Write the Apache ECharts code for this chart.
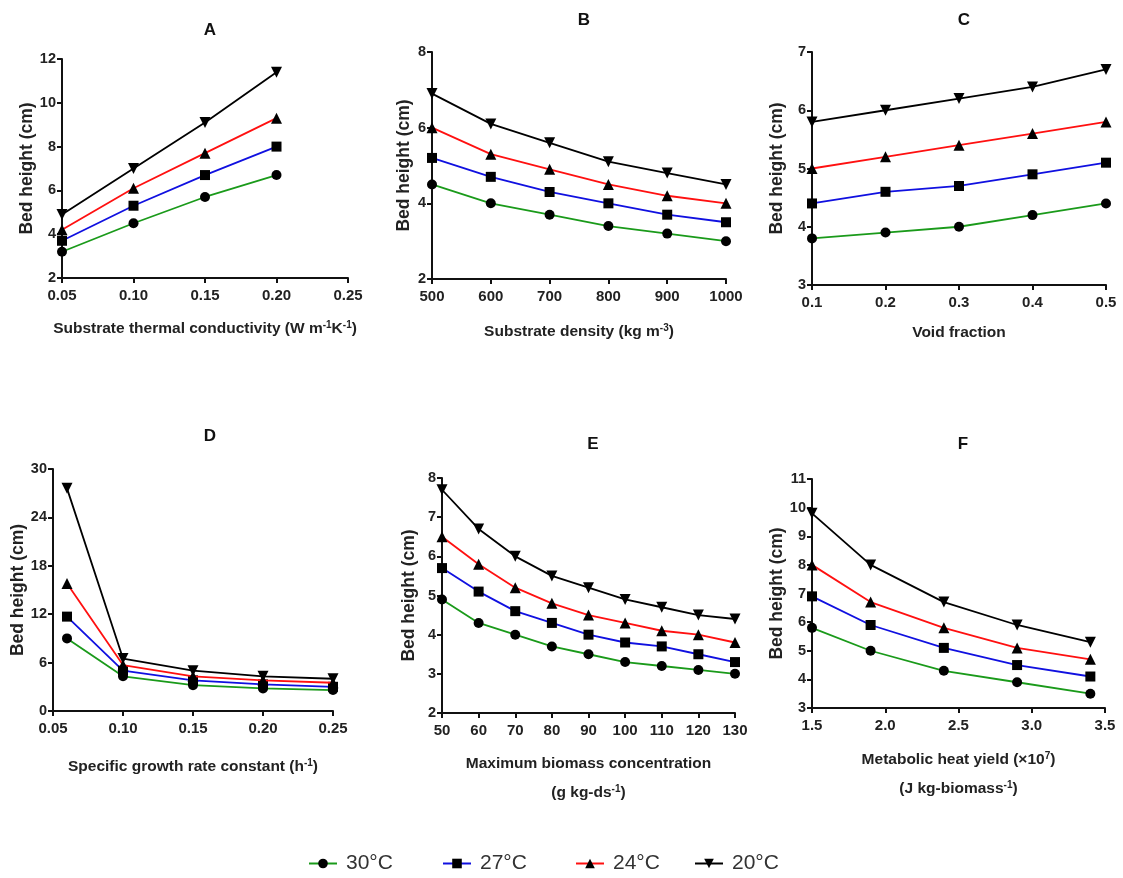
<!DOCTYPE html>
<html><head><meta charset="utf-8">
<script src="https://cdn.jsdelivr.net/npm/echarts@6/dist/echarts.min.js"></script>
<style>html,body{margin:0;padding:0;background:#fff}#c{width:1123px;height:878px}</style>
</head><body><div id="c"></div>
<script>
// Legend / temperatures
const tempNames = ['30°C', '27°C', '24°C', '20°C'];

// Panel A
const xA = [0.05, 0.10, 0.15, 0.20];
const a30 = [3.2, 4.5, 5.7, 6.7];
const a27 = [3.7, 5.3, 6.7, 8.0];
const a24 = [4.2, 6.1, 7.7, 9.3];
const a20 = [4.9, 7.0, 9.1, 11.4];

// Panel B
const xB = [500, 600, 700, 800, 900, 1000];
const b30 = [4.5, 4.0, 3.7, 3.4, 3.2, 3.0];
const b27 = [5.2, 4.7, 4.3, 4.0, 3.7, 3.5];
const b24 = [6.0, 5.3, 4.9, 4.5, 4.2, 4.0];
const b20 = [6.9, 6.1, 5.6, 5.1, 4.8, 4.5];

// Panel C
const xC = [0.1, 0.2, 0.3, 0.4, 0.5];
const c30 = [3.8, 3.9, 4.0, 4.2, 4.4];
const c27 = [4.4, 4.6, 4.7, 4.9, 5.1];
const c24 = [5.0, 5.2, 5.4, 5.6, 5.8];
const c20 = [5.8, 6.0, 6.2, 6.4, 6.7];

// Panel D
const xD = [0.06, 0.10, 0.15, 0.20, 0.25];
const d30 = [9.0, 4.3, 3.2, 2.8, 2.6];
const d27 = [11.7, 5.0, 3.8, 3.3, 3.0];
const d24 = [15.8, 5.7, 4.3, 3.8, 3.5];
const d20 = [27.6, 6.5, 5.0, 4.3, 4.0];

// Panel E
const xE = [50, 60, 70, 80, 90, 100, 110, 120, 130];
const e30 = [4.9, 4.3, 4.0, 3.7, 3.5, 3.3, 3.2, 3.1, 3.0];
const e27 = [5.7, 5.1, 4.6, 4.3, 4.0, 3.8, 3.7, 3.5, 3.3];
const e24 = [6.5, 5.8, 5.2, 4.8, 4.5, 4.3, 4.1, 4.0, 3.8];
const e20 = [7.7, 6.7, 6.0, 5.5, 5.2, 4.9, 4.7, 4.5, 4.4];

// Panel F
const xF = [1.5, 1.9, 2.4, 2.9, 3.4];
const f30 = [5.8, 5.0, 4.3, 3.9, 3.5];
const f27 = [6.9, 5.9, 5.1, 4.5, 4.1];
const f24 = [8.0, 6.7, 5.8, 5.1, 4.7];
const f20 = [9.8, 8.0, 6.7, 5.9, 5.3];

// Titles and axis names (rich text: n = normal, s = superscript)
const panelTitles = ['A', 'B', 'C', 'D', 'E', 'F'];
const xNames = [
  '{n|Substrate thermal conductivity (W m}{s|-1}{n|K}{s|-1}{n|)}',
  '{n|Substrate density (kg m}{s|-3}{n|)}',
  '{n|Void fraction}',
  '{n|Specific growth rate constant (h}{s|-1}{n|)}',
  '{n|Maximum biomass concentration}\n{n|(g kg-ds}{s|-1}{n|)}',
  '{n|Metabolic heat yield (\u00D710}{s|7}{n|)}\n{n|(J kg-biomass}{s|-1}{n|)}'
];
const yName = 'Bed height (cm)';

const panels = [
  {xs: xA, sets: [a30, a27, a24, a20], grid: {left: 62, top: 59, width: 286, height: 219}, x: [0.05, 0.25, 0.05, 2], y: [2, 12, 2], title: [205, 17], gap: 36, ygap: 24},
  {xs: xB, sets: [b30, b27, b24, b20], grid: {left: 432, top: 52, width: 294, height: 227}, x: [500, 1000, 100, 0], y: [2, 8, 2], title: [579, 7], gap: 38, ygap: 19},
  {xs: xC, sets: [c30, c27, c24, c20], grid: {left: 812, top: 52, width: 294, height: 233}, x: [0.1, 0.5, 0.1, 1], y: [3, 7, 1], title: [959, 7], gap: 33, ygap: 26},
  {xs: xD, sets: [d30, d27, d24, d20], grid: {left: 53, top: 469, width: 280, height: 242}, x: [0.05, 0.25, 0.05, 2], y: [0, 30, 6], title: [205, 423], gap: 41, ygap: 25},
  {xs: xE, sets: [e30, e27, e24, e20], grid: {left: 442, top: 478, width: 293, height: 235}, x: [50, 130, 10, 0], y: [2, 8, 1], title: [588, 431], gap: 36, ygap: 24},
  {xs: xF, sets: [f30, f27, f24, f20], grid: {left: 812, top: 479, width: 293, height: 229}, x: [1.5, 3.5, 0.5, 1], y: [3, 11, 1], title: [958, 431], gap: 37, ygap: 24}
];

const lineColors = ['#1a9a1a', '#1010e0', '#ff1010', '#000000'];
const symbols = ['circle', 'rect', 'triangle', 'triangle'];
const rotations = [0, 0, 0, 180];
const symSizes = [10, 10, 11, 11];
const legendLeft = [303, 437, 570, 689];

const FONT = '"Liberation Sans", Arial, sans-serif';
const axisLineStyle = {color: '#111', width: 2};

const grids = [], xAxes = [], yAxes = [], series = [], titles = [];
panels.forEach((p, i) => {
  grids.push(Object.assign({containLabel: false}, p.grid));
  titles.push({text: panelTitles[i], left: p.title[0], top: p.title[1], textAlign: 'center',
    textStyle: {fontFamily: FONT, fontWeight: 'bold', fontSize: 17, color: '#111'}});
  const dec = p.x[3];
  xAxes.push({
    type: 'value', gridIndex: i, min: p.x[0], max: p.x[1], interval: p.x[2],
    name: xNames[i], nameLocation: 'middle', nameGap: p.gap,
    nameTextStyle: {
      fontFamily: FONT, fontWeight: 'bold', fontSize: 15.5, color: '#222', lineHeight: 29,
      rich: {
        n: {fontFamily: FONT, fontWeight: 'bold', fontSize: 15.5, color: '#222', lineHeight: 29},
        s: {fontFamily: FONT, fontWeight: 'bold', fontSize: 10, color: '#222', verticalAlign: 'top', lineHeight: 12, padding: [6, 0, 0, 0]}
      }
    },
    axisLine: {show: true, onZero: false, lineStyle: axisLineStyle},
    axisTick: {show: true, length: 5, lineStyle: axisLineStyle},
    axisLabel: {fontFamily: FONT, fontWeight: 'bold', fontSize: 15, color: '#222', margin: 10,
      formatter: v => Number(v).toFixed(dec)},
    splitLine: {show: false}
  });
  yAxes.push({
    type: 'value', gridIndex: i, min: p.y[0], max: p.y[1], interval: p.y[2],
    name: yName, nameLocation: 'middle', nameGap: p.ygap,
    nameTextStyle: {fontFamily: FONT, fontWeight: 'bold', fontSize: 17.5, color: '#222'},
    axisLine: {show: true, onZero: false, lineStyle: axisLineStyle},
    axisTick: {show: true, length: 5, lineStyle: axisLineStyle},
    axisLabel: {fontFamily: FONT, fontWeight: 'bold', fontSize: 14.5, color: '#222', margin: 6},
    splitLine: {show: false}
  });
  p.sets.forEach((vals, k) => {
    series.push({
      type: 'line', name: tempNames[k], xAxisIndex: i, yAxisIndex: i,
      data: p.xs.map((x, j) => [x, vals[j]]),
      symbol: symbols[k], symbolRotate: rotations[k], symbolSize: symSizes[k],
      showAllSymbol: true,
      lineStyle: {color: lineColors[k], width: 1.8},
      itemStyle: {color: '#000'},
      z: 2 + k
    });
  });
});

const legends = tempNames.map((n, k) => ({
  data: [n], left: legendLeft[k], top: 848, itemWidth: 28, itemHeight: 12,
  selectedMode: false,
  textStyle: {fontFamily: FONT, fontSize: 21, color: '#333', padding: [0, 0, 0, 4]}
}));

const chart = echarts.init(document.getElementById('c'), null, {renderer: 'canvas'});
chart.setOption({
  animation: false,
  backgroundColor: '#fff',
  title: titles,
  grid: grids,
  xAxis: xAxes,
  yAxis: yAxes,
  legend: legends,
  series: series
});
</script>
</body></html>
